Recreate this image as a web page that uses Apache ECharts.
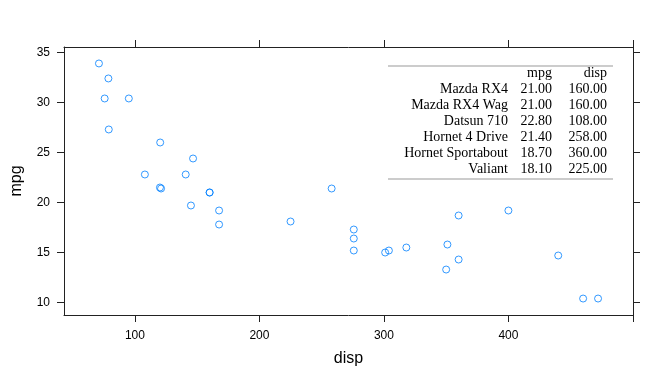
<!DOCTYPE html>
<html>
<head>
<meta charset="utf-8">
<script src="https://cdn.jsdelivr.net/npm/echarts@6/dist/echarts.min.js"></script>
<style>html,body{margin:0;padding:0;background:#fff}#c{width:672px;height:384px}</style>
</head>
<body>
<div id="c"></div>
<script>
// mtcars: disp vs mpg
var disp = [160,160,108,258,360,225,360,146.7,140.8,167.6,167.6,275.8,275.8,275.8,472,460,440,78.7,75.7,71.1,120.1,318,304,350,400,79,120.3,95.1,351,145,301,121];
var mpg  = [21.0,21.0,22.8,21.4,18.7,18.1,14.3,24.4,22.8,19.2,17.8,16.4,17.3,15.2,10.4,10.4,14.7,32.4,30.4,33.9,21.5,15.5,15.2,13.3,19.2,27.3,26.0,30.4,15.8,19.7,15.0,21.4];
var xTicks = [100,200,300,400,500];
var xLabels = [100,200,300,400];
var yTicks = [10,15,20,25,30,35];
// table inset
var tableNames = ["Mazda RX4","Mazda RX4 Wag","Datsun 710","Hornet 4 Drive","Hornet Sportabout","Valiant"];
var tableMpg = [21.00,21.00,22.80,21.40,18.70,18.10];
var tableDisp = [160.00,160.00,108.00,258.00,360.00,225.00];
var tableHeader = ["mpg","disp"];

var xMin = 71.1 - 0.07*(472-71.1), xMax = 472 + 0.07*(472-71.1);
var yMin = 10.4 - 0.07*(33.9-10.4), yMax = 33.9 + 0.07*(33.9-10.4);

var axisCol = '#222';
var font = 'Liberation Sans, Arial, sans-serif';
var serif = 'Liberation Serif, DejaVu Serif, serif';

function xAx(pos, showLabel){
  return {type:'value', position:pos, min:xMin, max:xMax,
    axisLine:{show:true, onZero:false, lineStyle:{color:axisCol,width:1}},
    axisTick:{show:true, inside:false, length:7, customValues:xTicks, lineStyle:{color:axisCol}},
    axisLabel:{show:showLabel, customValues:xLabels, color:'#000', fontFamily:font, fontSize:12, margin:15},
    splitLine:{show:false},
    name: showLabel ? 'disp' : '', nameLocation:'middle', nameGap:36,
    nameTextStyle:{fontFamily:font, fontSize:16, color:'#000'}};
}
function yAx(pos, showLabel){
  return {type:'value', position:pos, min:yMin, max:yMax,
    axisLine:{show:true, onZero:false, lineStyle:{color:axisCol,width:1}},
    axisTick:{show:true, inside:false, length:7, customValues:yTicks, lineStyle:{color:axisCol}},
    axisLabel:{show:showLabel, customValues:yTicks, color:'#000', fontFamily:font, fontSize:12, margin:14},
    splitLine:{show:false},
    name: showLabel ? 'mpg' : '', nameLocation:'middle', nameGap:39,
    nameTextStyle:{fontFamily:font, fontSize:16, color:'#000'}};
}

var graphics = [];
var tLeft = 388, tRight = 613, nameRight = 508, mpgRight = 552, dispRight = 607;
var headerY = 73, row0 = 89, rowH = 16;
var tf = '14px ' + serif;
graphics.push({type:'line', shape:{x1:tLeft,y1:66,x2:tRight,y2:66}, style:{stroke:'#999',lineWidth:1}});
graphics.push({type:'line', shape:{x1:tLeft,y1:179,x2:tRight,y2:179}, style:{stroke:'#999',lineWidth:1.2}});
graphics.push({type:'text', x:mpgRight, y:headerY, style:{text:tableHeader[0], font:tf, fill:'#000', align:'right', verticalAlign:'middle'}});
graphics.push({type:'text', x:dispRight, y:headerY, style:{text:tableHeader[1], font:tf, fill:'#000', align:'right', verticalAlign:'middle'}});
for (var i=0;i<tableNames.length;i++){
  var yy = row0 + i*rowH;
  graphics.push({type:'text', x:nameRight, y:yy, style:{text:tableNames[i], font:tf, fill:'#000', align:'right', verticalAlign:'middle'}});
  graphics.push({type:'text', x:mpgRight, y:yy, style:{text:tableMpg[i].toFixed(2), font:tf, fill:'#000', align:'right', verticalAlign:'middle'}});
  graphics.push({type:'text', x:dispRight, y:yy, style:{text:tableDisp[i].toFixed(2), font:tf, fill:'#000', align:'right', verticalAlign:'middle'}});
}

var data = disp.map(function(d,i){return [d, mpg[i]];});
var chart = echarts.init(document.getElementById('c'), null, {renderer:'canvas'});
chart.setOption({
  animation:false,
  backgroundColor:'#fff',
  grid:{left:64, right:39, top:47, bottom:69, containLabel:false},
  xAxis:[xAx('bottom', true), xAx('top', false)],
  yAxis:[yAx('left', true), yAx('right', false)],
  series:[{type:'scatter', xAxisIndex:0, yAxisIndex:0, data:data, symbol:'circle', symbolSize:7,
    itemStyle:{color:'rgba(0,0,0,0)', borderColor:'#0080ff', borderWidth:1},
    emphasis:{disabled:true}}],
  graphic: graphics
});
</script>
</body>
</html>
